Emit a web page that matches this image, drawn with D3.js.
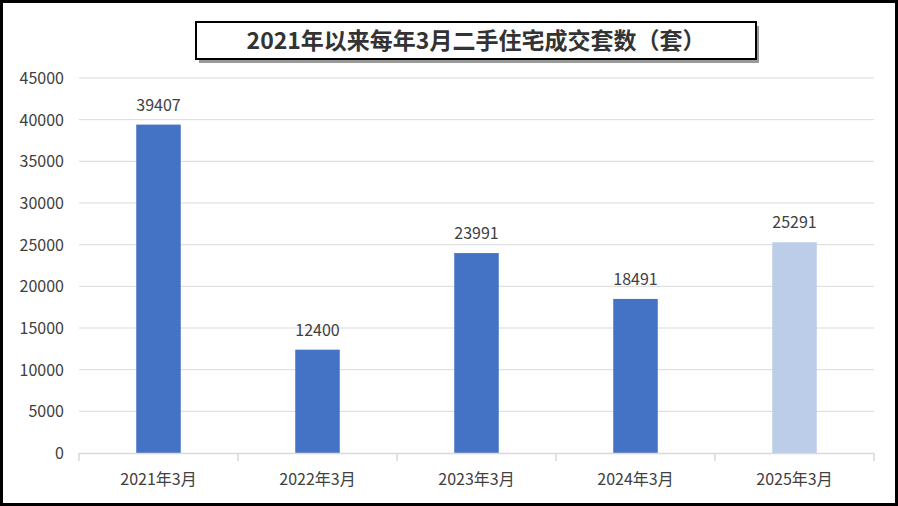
<!DOCTYPE html>
<html><head><meta charset="utf-8">
<script src="https://cdn.jsdelivr.net/npm/d3@7"></script>
<style>body{margin:0;background:#fff}svg{display:block}</style>
</head><body>
<svg id="c" width="898" height="506"></svg>
<script>
const categories = ["2021年3月","2022年3月","2023年3月","2024年3月","2025年3月"];
const values = [39407,12400,23991,18491,25291];
const barColors = ["#4472C4","#4472C4","#4472C4","#4472C4","#BCCDEA"];
const yTicks = [0,5000,10000,15000,20000,25000,30000,35000,40000,45000];
const title = "2021年以来每年3月二手住宅成交套数（套）";

const svg = d3.select("#c");
const font = "'Noto Sans CJK SC','DejaVu Sans',sans-serif";
svg.append("rect").attr("x",1.5).attr("y",1.5).attr("width",895).attr("height",503).attr("fill","#fff").attr("stroke","#000").attr("stroke-width",3);

const x = d3.scaleBand().domain(categories).range([79,874]).paddingInner(0.72).paddingOuter(0.36);
const y = d3.scaleLinear().domain([0,45000]).range([453,78]);

svg.append("g").selectAll("line").data(yTicks.slice(1)).join("line")
  .attr("x1",79).attr("x2",874).attr("y1",d=>y(d)).attr("y2",d=>y(d))
  .attr("stroke","#d9d9d9").attr("stroke-width",1);

svg.append("g").selectAll("text").data(yTicks).join("text")
  .attr("x",64).attr("y",d=>y(d)+6).attr("text-anchor","end")
  .attr("font-family",font).attr("font-size",16).attr("fill","#404040").text(d=>d);

svg.append("g").selectAll("rect").data(values).join("rect")
  .attr("x",(d,i)=>x(categories[i])).attr("width",x.bandwidth())
  .attr("y",d=>y(d)).attr("height",d=>y(0)-y(d)).attr("fill",(d,i)=>barColors[i]);

svg.append("g").selectAll("text").data(values).join("text")
  .attr("x",(d,i)=>x(categories[i])+x.bandwidth()/2).attr("y",d=>y(d)-14)
  .attr("text-anchor","middle").attr("font-family",font).attr("font-size",16).attr("fill","#404040").text(d=>d);

// x axis
const step = (874-79)/categories.length;
svg.append("line").attr("x1",79).attr("x2",874).attr("y1",453.5).attr("y2",453.5).attr("stroke","#d9d9d9").attr("stroke-width",1.5);
svg.append("g").selectAll("line").data(d3.range(categories.length+1)).join("line")
  .attr("x1",i=>79+i*step).attr("x2",i=>79+i*step).attr("y1",453).attr("y2",461)
  .attr("stroke","#d9d9d9").attr("stroke-width",1.5);
svg.append("g").selectAll("text").data(categories).join("text")
  .attr("x",d=>x(d)+x.bandwidth()/2).attr("y",485).attr("text-anchor","middle")
  .attr("font-family",font).attr("font-size",16).attr("fill","#404040").text(d=>d);

// title box
svg.append("rect").attr("x",199).attr("y",26).attr("width",560).attr("height",37).attr("fill","#999");
svg.append("rect").attr("x",196).attr("y",22).attr("width",560).attr("height",37).attr("fill","#fff").attr("stroke","#000").attr("stroke-width",2);
svg.append("text").attr("x",476).attr("y",49).attr("text-anchor","middle")
  .attr("font-family",font).attr("font-size",23).attr("font-weight","bold").attr("fill","#333").text(title);
</script>
</body></html>
